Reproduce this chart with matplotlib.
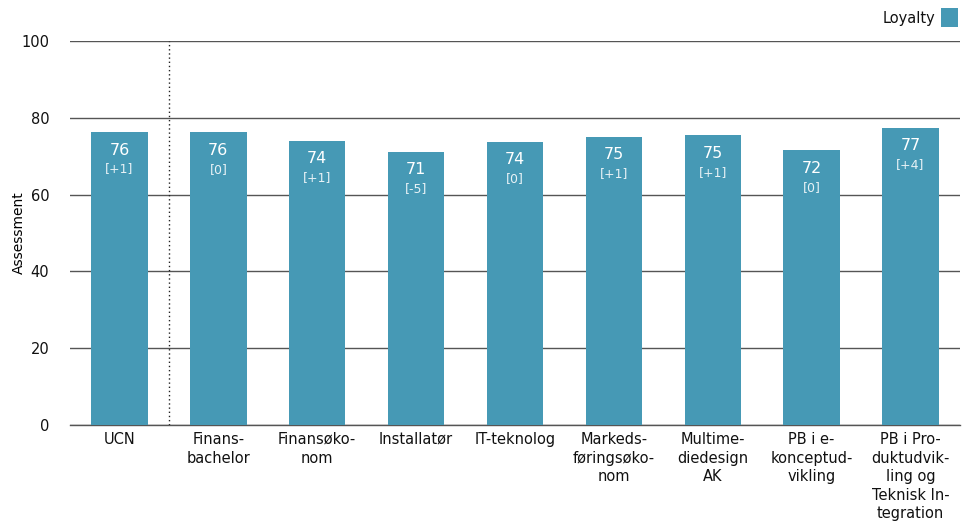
import matplotlib
matplotlib.use("Agg")
import matplotlib.pyplot as plt
from matplotlib.patches import Rectangle

categories = ["UCN", "Finans-\nbachelor", "Finansøko-\nnom", "Installatør", "IT-teknolog",
              "Markeds-\nføringsøko-\nnom", "Multime-\ndiedesign\nAK", "PB i e-\nkonceptud-\nvikling",
              "PB i Pro-\nduktudvik-\nling og\nTeknisk In-\ntegration"]
values = [76.3, 76.2, 74.0, 71.1, 73.7, 75.0, 75.4, 71.6, 77.4]
changes = ["[+1]", "[0]", "[+1]", "[-5]", "[0]", "[+1]", "[+1]", "[0]", "[+4]"]
yticks = [0, 20, 40, 60, 80, 100]
series_name = "Loyalty"
ylabel = "Assessment"

color = "#4699b5"
plt.rcParams['font.family'] = ['DejaVu Sans']

fig = plt.figure(figsize=(9.67, 5.26), dpi=100)
ax = fig.add_axes([70/967, 1-425/526, 890/967, 384/526])

x = list(range(len(categories)))
ax.bar(x, values, width=0.57, color=color, zorder=3)
ax.set_xlim(-0.5, len(categories)-0.5)
ax.set_ylim(0, 100)
ax.set_yticks(yticks)
ax.yaxis.grid(True, color="#555555", linewidth=1, zorder=1)
ax.axhline(0, color="#555555", linewidth=1, zorder=1, clip_on=False)
ax.set_axisbelow(True)
for s in ax.spines.values():
    s.set_visible(False)
ax.tick_params(axis='y', length=0, pad=15, labelsize=10.5, colors="#111111")
ax.tick_params(axis='x', length=0, pad=5, labelsize=10.5, colors="#111111")
ax.set_xticks(x)
ax.set_xticklabels(categories, linespacing=1.3)
ax.set_ylabel(ylabel, fontsize=10)
ax.yaxis.set_label_coords(-44/890, 0.5)

ax.axvline(0.5, color="#222222", linestyle=(0, (1, 2)), linewidth=1, zorder=4)

for xi, v, c in zip(x, values, changes):
    ax.annotate(f"{round(v):d}", (xi, v), xytext=(0, -18), textcoords="offset pixels",
                ha="center", va="center", color="white", fontsize=11.5, zorder=5)
    ax.annotate(c, (xi, v), xytext=(0, -37), textcoords="offset pixels",
                ha="center", va="center", color="#e8f2f6", fontsize=9, zorder=5)

# legend
fig.text(935/967, 1-18/526, series_name, ha="right", va="center", fontsize=10.5, color="#111111")
fig.patches.append(Rectangle((941/967, 1-27/526), 17/967, 19/526, transform=fig.transFigure,
                             facecolor=color, edgecolor="none"))

fig.savefig("out.png", dpi=100)
